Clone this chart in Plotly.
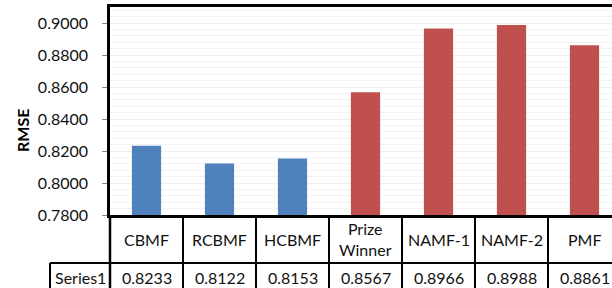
import plotly.graph_objects as go

categories = ["CBMF", "RCBMF", "HCBMF", "Prize<br>Winner", "NAMF-1", "NAMF-2", "PMF"]
values = [0.8233, 0.8122, 0.8153, 0.8567, 0.8966, 0.8988, 0.8861]
value_labels = ["0.8233", "0.8122", "0.8153", "0.8567", "0.8966", "0.8988", "0.8861"]
series_name = "Series1"
y_title = "RMSE"

BLUE = "#4F81BD"
RED = "#C0504D"
bar_colors = [BLUE, BLUE, BLUE, RED, RED, RED, RED]

FONT = "Lato"
FS = 16
W, H = 612, 288
L, T, B = 110, 7, 73
plot_h = H - T - B
plot_w = W - L

def py(pix):  # pixel y -> paper y
    return (H - B - pix) / plot_h

def px(pix):  # pixel x -> paper x
    return (pix - L) / plot_w

xs = list(range(len(categories)))

fig = go.Figure()
fig.add_trace(go.Bar(
    x=xs, y=values, marker=dict(color=bar_colors, line=dict(width=0)),
    width=0.4, showlegend=False, hoverinfo="skip",
))

fig.update_layout(
    width=W, height=H,
    margin=dict(l=L, r=0, t=T, b=B, pad=0),
    paper_bgcolor="white", plot_bgcolor="white",
    font=dict(family=FONT, size=FS, color="black"),
    xaxis=dict(
        range=[-0.5, -0.5 + plot_w / 73.0], showticklabels=False, ticks="",
        showgrid=False, zeroline=False, showline=True, linecolor="black",
        linewidth=2.5, mirror=True,
    ),
    yaxis=dict(
        range=[0.78, 0.91], dtick=0.02, tick0=0.78, tickformat=".4f",
        ticks="outside", ticklen=5, tickcolor="#888888", tickwidth=1,
        showline=True, linecolor="black", linewidth=2.5,
        showgrid=True, gridcolor="#EDEDED", gridwidth=1, zeroline=False,
        minor=dict(dtick=0.004, showgrid=True, gridcolor="#F3F3F3", gridwidth=1),
        tickfont=dict(family=FONT, size=FS, color="#111111"),
        ticklabelstandoff=11,
    ),
)

shapes = []
ann = []
line_w = 2
# vertical separators of table (header + data row)
for i in range(1, len(categories) + 1):
    shapes.append(dict(type="line", xref="x", yref="paper", x0=i - 0.5, x1=i - 0.5,
                       y0=0, y1=py(300), line=dict(color="black", width=line_w)))
# left edge of table continues below axis
shapes.append(dict(type="line", xref="paper", yref="paper", x0=0, x1=0,
                   y0=0, y1=py(300), line=dict(color="black", width=2.5)))
# horizontal line between header and data row
shapes.append(dict(type="line", xref="paper", yref="paper", x0=px(50), x1=1.02,
                   y0=py(263), y1=py(263), line=dict(color="black", width=line_w)))
# left border of series name cell
shapes.append(dict(type="line", xref="paper", yref="paper", x0=px(50), x1=px(50),
                   y0=py(263), y1=py(300), line=dict(color="black", width=line_w)))

for x, c, v in zip(xs, categories, value_labels):
    ann.append(dict(x=x, y=py(239), xref="x", yref="paper", text=c, showarrow=False,
                    xanchor="center", yanchor="middle",
                    font=dict(family=FONT, size=FS, color="#111111")))
    ann.append(dict(x=x, y=py(277), xref="x", yref="paper", text=v, showarrow=False,
                    xanchor="center", yanchor="middle",
                    font=dict(family=FONT, size=FS, color="#111111")))

ann.append(dict(x=px(80), y=py(277), xref="paper", yref="paper", text=series_name,
                showarrow=False, xanchor="center", yanchor="middle",
                font=dict(family=FONT, size=FS, color="#111111")))
ann.append(dict(x=px(22), y=py(131), xref="paper", yref="paper", text="<b>" + y_title + "</b>",
                showarrow=False, xanchor="center", yanchor="middle", textangle=-90,
                font=dict(family=FONT, size=16, color="black")))

fig.update_layout(shapes=shapes, annotations=ann)
fig.write_html("out.html", config={"displayModeBar": False},
               post_script="document.body.style.margin='0';document.body.style.overflow='hidden';")
